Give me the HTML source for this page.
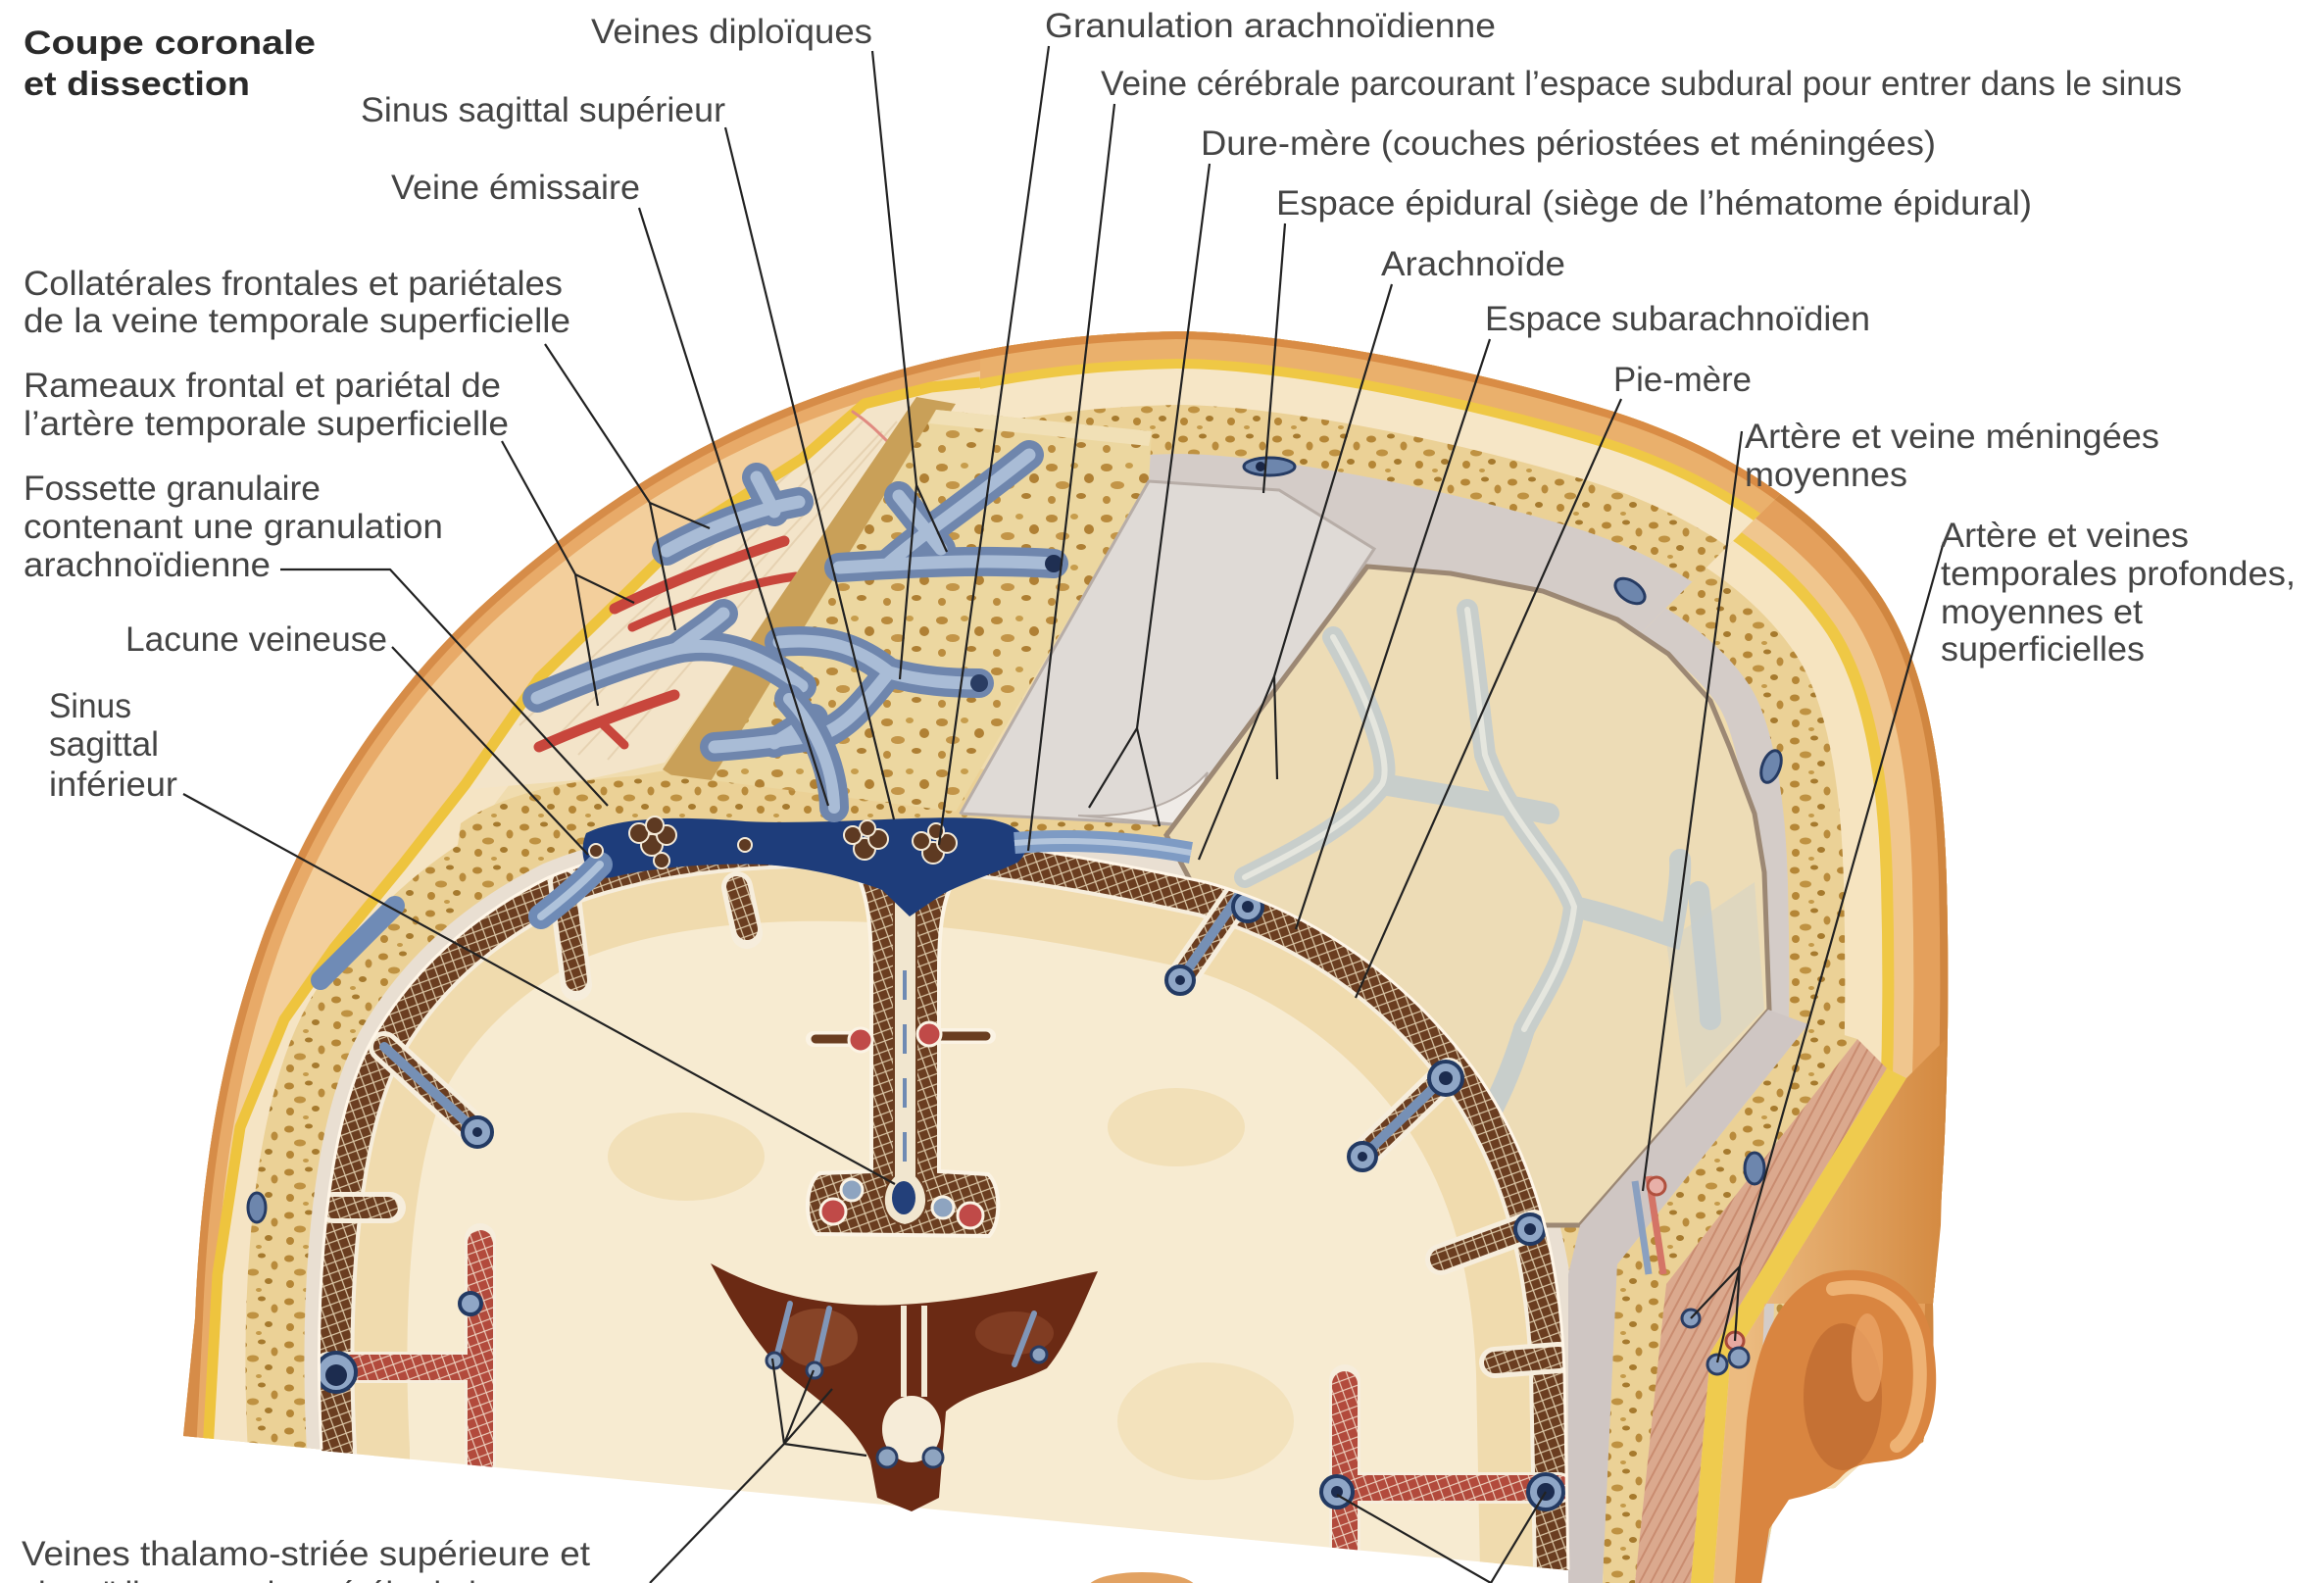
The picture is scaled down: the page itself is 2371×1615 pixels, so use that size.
<!DOCTYPE html>
<html><head><meta charset="utf-8">
<style>html,body{margin:0;padding:0;background:#fff;}svg{display:block}</style>
</head><body>
<svg width="2371" height="1615" viewBox="0 0 2371 1615" xmlns="http://www.w3.org/2000/svg">
<defs>
<pattern id="bone" width="48" height="44" patternUnits="userSpaceOnUse">
<rect width="48" height="44" fill="#ebd196"/>
<ellipse cx="7" cy="8" rx="5" ry="3.5" fill="#b58636"/>
<ellipse cx="27" cy="5" rx="4" ry="2.5" fill="#a67a2e"/>
<ellipse cx="40" cy="15" rx="3.5" ry="4.5" fill="#b98b3c"/>
<ellipse cx="18" cy="22" rx="6" ry="3.5" fill="#bf9242"/>
<ellipse cx="34" cy="31" rx="4" ry="3" fill="#a67a2e"/>
<ellipse cx="8" cy="34" rx="4" ry="4" fill="#b58636"/>
<ellipse cx="24" cy="40" rx="3" ry="2" fill="#c49a4a"/>
</pattern>
<pattern id="bone2" width="56" height="52" patternUnits="userSpaceOnUse">
<rect width="56" height="52" fill="#ecd7a0"/>
<ellipse cx="9" cy="9" rx="6" ry="4" fill="#b98a3c"/>
<ellipse cx="32" cy="7" rx="4" ry="3" fill="#c79d4c"/>
<ellipse cx="47" cy="20" rx="5" ry="5" fill="#b08034"/>
<ellipse cx="20" cy="27" rx="7" ry="4" fill="#c39548"/>
<ellipse cx="39" cy="38" rx="5" ry="3" fill="#ae7f33"/>
<ellipse cx="9" cy="42" rx="4" ry="4" fill="#bb8c3e"/>
</pattern>
<pattern id="mesh" width="14" height="14" patternUnits="userSpaceOnUse" patternTransform="rotate(25)">
<rect width="14" height="14" fill="#6a3d20"/>
<path d="M0,0L14,14M14,0L0,14" stroke="#dcc8a8" stroke-width="1.2"/>
</pattern>
<pattern id="meshR" width="14" height="14" patternUnits="userSpaceOnUse" patternTransform="rotate(25)">
<rect width="14" height="14" fill="#b24a3c"/>
<path d="M0,0L14,14M14,0L0,14" stroke="#efd6c4" stroke-width="1.1"/>
</pattern>
<pattern id="musc" width="10" height="10" patternUnits="userSpaceOnUse" patternTransform="rotate(-62)">
<rect width="10" height="10" fill="#dba98e"/>
<path d="M0,5H10" stroke="#c98c70" stroke-width="2"/>
</pattern>
<linearGradient id="skinG" x1="1780" y1="0" x2="1990" y2="0" gradientUnits="userSpaceOnUse">
<stop offset="0" stop-color="#ecbb80"/><stop offset="1" stop-color="#d3883f"/>
</linearGradient>
<clipPath id="cDome"><path d="M187,1465 L199,1345 C205,1180 230,1060 270,950 C320,820 400,700 500,610 C600,520 720,440 870,392 C980,355 1090,340 1200,338 C1300,338 1480,370 1640,418 C1760,455 1860,520 1920,610 C1965,680 1983,780 1986,900 C1990,1050 1985,1200 1972,1330 L1973,1412 L1962,1471 L1939,1486 L1902,1490 L1872,1518 L1835,1522 L1812,1533 L1797,1615 L1740,1615 Z"/></clipPath>
<clipPath id="cL"><rect x="0" y="0" width="1000" height="1615"/></clipPath>
<clipPath id="cM"><path d="M1000,0H2371V420H1900L1560,760V1615H1000Z"/></clipPath>
<clipPath id="cR"><path d="M1560,1615V760L1900,420H2371V1615Z"/></clipPath>
<clipPath id="cBrain"><path d="M328,1480 C320,1330 330,1150 380,1060 C420,990 480,935 560,895 C650,858 760,848 860,850 C980,852 1100,872 1230,900 C1340,930 1440,1000 1510,1100 C1570,1190 1592,1290 1596,1400 L1600,1602 Z"/></clipPath>
<path id="OC" d="M190,1520 L199,1345 C205,1180 230,1060 270,950 C320,820 400,700 500,610 C600,520 720,440 870,392 C980,355 1090,340 1200,338 C1300,338 1480,370 1640,418 C1760,455 1860,520 1920,610 C1965,680 1983,780 1986,900 C1990,1050 1985,1200 1972,1330 L1965,1640" fill="none" stroke-linejoin="round"/>
<path id="BC" d="M328,1520 L328,1480 C320,1330 330,1150 380,1060 C420,990 480,935 560,895 C650,858 760,848 860,850 C980,852 1100,872 1230,900 C1340,930 1440,1000 1510,1100 C1570,1190 1592,1290 1596,1400 L1600,1602 L1601,1640" fill="none" stroke-linejoin="round"/>
<path id="YL" d="M212,1480 L222,1300 L245,1150 L290,1040 L341,967 L410,883 L475,800 L550,692 L626,618 L705,540 L818,468 L882,412 L950,395 L1000,390" fill="none" stroke-linejoin="round"/>
</defs>

<rect width="2371" height="1615" fill="#ffffff"/>

<!-- base dome -->
<path d="M187,1465 L199,1345 C205,1180 230,1060 270,950 C320,820 400,700 500,610 C600,520 720,440 870,392 C980,355 1090,340 1200,338 C1300,338 1480,370 1640,418 C1760,455 1860,520 1920,610 C1965,680 1983,780 1986,900 C1990,1050 1985,1200 1972,1330 L1973,1412 L1962,1471 L1939,1486 L1902,1490 L1872,1518 L1835,1522 L1812,1533 L1797,1615 L1740,1615 Z" fill="#f0dcae"/>

<g clip-path="url(#cDome)">
 <g clip-path="url(#cL)">
  <use href="#OC" stroke="#f5e4c4" stroke-width="290"/>
 </g>
 <!-- outer peach scalp (left/upper-left) -->
 <path d="M212,1480 L222,1300 L245,1150 L290,1040 L341,967 L410,883 L475,800 L550,692 L626,618 L705,540 L818,468 L882,412 L950,395 L1000,390 L1000,300 L150,300 L150,1480 Z" fill="#f3cf9c"/>
 <g clip-path="url(#cL)">
  <use href="#OC" stroke="#e8aa68" stroke-width="40"/>
  <use href="#OC" stroke="#d68c48" stroke-width="16"/>
 </g>
 <g clip-path="url(#cM)">
  <use href="#OC" stroke="#d4ccc8" stroke-width="540"/>
  <use href="#OC" stroke="url(#bone)" stroke-width="250"/>
  <use href="#OC" stroke="#f6e6c6" stroke-width="150"/>
  <use href="#OC" stroke="#efc845" stroke-width="76"/>
  <use href="#OC" stroke="#eab06c" stroke-width="56"/>
  <use href="#OC" stroke="#d98c45" stroke-width="16"/>
 </g>
 <g clip-path="url(#cR)">
  <use href="#OC" stroke="#d4ccc8" stroke-width="400"/>
  <use href="#OC" stroke="url(#bone)" stroke-width="324"/>
  <use href="#OC" stroke="#f6e4c0" stroke-width="210"/>
  <use href="#OC" stroke="#efc845" stroke-width="134"/>
  <use href="#OC" stroke="#f0c68e" stroke-width="110"/>
  <use href="#OC" stroke="#e4a05c" stroke-width="70"/>
  <use href="#OC" stroke="#d08640" stroke-width="16"/>
 </g>
 <!-- coronal bone ring around brain -->
 <use href="#BC" stroke="url(#bone)" stroke-width="150"/>
 <use href="#BC" stroke="#e9dfd2" stroke-width="30"/>
</g>

<!-- scalp window (galea) -->
<path d="M480,805 L550,700 L626,620 L705,545 L818,472 L882,412 L940,405 L678,778 L600,795 Z" fill="#f3e4c9"/>
<g stroke="#e6d2b2" stroke-width="2" fill="none">
<path d="M560,760 L880,430"/><path d="M590,770 L900,440"/><path d="M620,775 L915,430"/><path d="M530,740 L840,450"/>
</g>
<g clip-path="url(#cDome)">
<use href="#YL" stroke="#eec43e" stroke-width="11"/>
</g>
<!-- arteries -->
<g fill="none" stroke-linecap="round">
<path d="M627,621 C680,595 740,572 800,552" stroke="#c8463c" stroke-width="11"/>
<path d="M645,640 C700,615 760,595 812,588" stroke="#c8463c" stroke-width="9"/>
<path d="M550,762 C600,740 650,722 688,709" stroke="#c8463c" stroke-width="11"/>
<path d="M612,736 L637,760" stroke="#c8463c" stroke-width="9"/>
<path d="M870,420 C885,430 895,440 905,450" stroke="#e08a80" stroke-width="3"/>
</g>
<!-- strip & bone window -->
<path d="M935,405 L975,412 L718,812 L676,785 Z" fill="#c9a058"/>
<path d="M955,418 L1175,440 L1172,492 L975,828 L716,812 Z" fill="url(#bone2)"/>
<path d="M955,418 L1175,440 L1172,455 L948,432 Z" fill="#f1e0b6"/>
<!-- veins (scalp & bone windows) -->
<g fill="none" stroke-linecap="round">
 <g stroke="#6f86ad" stroke-width="30">
  <path d="M680,562 C720,540 770,520 815,512"/><path d="M772,487 L790,522"/>
  <path d="M548,712 C600,690 650,672 690,662 C740,652 780,672 818,700"/><path d="M690,662 C705,650 722,640 738,626"/>
  <path d="M795,655 C850,650 880,665 907,686 C940,695 970,697 999,697"/>
  <path d="M729,762 C760,760 800,755 830,751"/><path d="M790,758 L830,733"/><path d="M907,686 C880,720 860,745 830,752"/>
  <path d="M856,579 C920,575 1000,570 1075,575"/><path d="M905,576 C940,545 980,520 1050,464"/><path d="M917,506 L960,560"/>
 </g>
 <g stroke="#a9bcd6" stroke-width="13">
  <path d="M680,562 C720,540 770,520 815,512"/><path d="M772,487 L790,522"/>
  <path d="M548,712 C600,690 650,672 690,662 C740,652 780,672 818,700"/><path d="M690,662 C705,650 722,640 738,626"/>
  <path d="M795,655 C850,650 880,665 907,686 C940,695 970,697 999,697"/>
  <path d="M729,762 C760,760 800,755 830,751"/><path d="M790,758 L830,733"/><path d="M907,686 C880,720 860,745 830,752"/>
  <path d="M856,579 C920,575 1000,570 1075,575"/><path d="M905,576 C940,545 980,520 1050,464"/><path d="M917,506 L960,560"/>
 </g>
</g>
<circle cx="1075" cy="575" r="9" fill="#1f2f52"/>
<circle cx="999" cy="697" r="9" fill="#2a3d63"/>

<!-- dura flap -->
<path d="M1172,491 L1305,500 L1402,560 L1215,842 L980,830 Z" fill="#dfdad6" stroke="#b7ada7" stroke-width="3"/>
<path d="M1100,832 Q1190,836 1232,788 L1215,842 Z" fill="#efebe7" stroke="#b7ada7" stroke-width="2"/>

<!-- arachnoid window -->
<path d="M1395,578 L1480,585 L1574,603 L1650,632 L1702,667 L1745,715 L1765,763 L1790,830 L1800,890 L1805,1030 L1612,1250 L1400,1250 L1190,852 Z" fill="#eddcb6" stroke="#9c8874" stroke-width="5"/>
<g fill="none" stroke-linecap="round" opacity="0.85">
 <g stroke="#c2cccf" stroke-width="22">
  <path d="M1360,650 C1400,720 1420,780 1410,800 C1380,840 1320,870 1270,895"/>
  <path d="M1410,800 C1470,810 1530,820 1580,830"/>
  <path d="M1497,622 C1505,680 1510,730 1515,770 C1540,840 1590,880 1606,925 C1600,980 1570,1020 1555,1050"/>
  <path d="M1606,925 C1650,935 1690,950 1705,955 C1712,920 1715,890 1714,877"/>
  <path d="M1733,910 C1740,980 1745,1030 1745,1040"/>
  <path d="M1555,1050 C1540,1100 1520,1140 1500,1170"/>
 </g>
 <g stroke="#e4e8e6" stroke-width="6">
  <path d="M1360,650 C1400,720 1420,780 1410,800 C1380,840 1320,870 1270,895"/>
  <path d="M1497,622 C1505,680 1510,730 1515,770 C1540,840 1590,880 1606,925 C1600,980 1570,1020 1555,1050"/>
 </g>
</g>
<path d="M1700,960 L1790,900 L1800,1030 L1720,1110 Z" fill="#c5cdd0" opacity="0.35"/>

<!-- lower right layer stack -->
<path d="M1804,1030 L1845,1045 L1650,1290 L1635,1615 L1600,1615 L1600,1300 L1612,1250 Z" fill="#cfc6c3"/>
<path d="M1845,1045 L1895,1060 L1700,1310 L1668,1615 L1635,1615 L1650,1290 Z" fill="url(#bone)"/>
<path d="M1895,1060 L1925,1090 L1745,1380 L1725,1615 L1668,1615 L1700,1310 Z" fill="url(#musc)"/>
<path d="M1925,1090 L1945,1100 L1765,1390 L1748,1615 L1725,1615 L1745,1380 Z" fill="#efcb4e"/>
<path d="M1945,1100 L1985,1060 L1980,1250 L1972,1330 L1800,1330 L1790,1615 L1748,1615 L1765,1390 Z" fill="url(#skinG)"/>
<path d="M1668,1205 L1682,1300" stroke="#8aa0c0" stroke-width="7"/>
<path d="M1682,1200 L1697,1300" stroke="#d47466" stroke-width="7"/>
<circle cx="1690" cy="1210" r="9" fill="#e8b0a8" stroke="#b0503e" stroke-width="3"/>
<circle cx="1725" cy="1345" r="9" fill="#8aa0c0" stroke="#2a3d63" stroke-width="3"/>
<circle cx="1770" cy="1368" r="9" fill="#e8a8a0" stroke="#a84a3a" stroke-width="3"/>
<circle cx="1752" cy="1392" r="10" fill="#8aa0c0" stroke="#2a3d63" stroke-width="3"/>
<circle cx="1774" cy="1385" r="10" fill="#8aa0c0" stroke="#2a3d63" stroke-width="3"/>

<!-- ear -->
<path d="M1860,1300 C1915,1285 1962,1310 1972,1370 C1982,1430 1968,1478 1940,1488 C1915,1494 1895,1490 1880,1505 C1865,1522 1845,1525 1825,1530 L1805,1560 L1797,1615 L1770,1615 L1782,1450 C1790,1380 1810,1320 1860,1300 Z" fill="#d98540"/>
<ellipse cx="1880" cy="1425" rx="40" ry="75" fill="#b5602a" opacity="0.55"/>
<path d="M1870,1315 C1920,1305 1955,1335 1958,1385 C1962,1430 1950,1465 1935,1475" fill="none" stroke="#eeb273" stroke-width="14" stroke-linecap="round"/>
<ellipse cx="1905" cy="1385" rx="16" ry="45" fill="#eaa264" opacity="0.8"/>
<ellipse cx="1165" cy="1620" rx="55" ry="16" fill="#e2a262"/>

<!-- brain -->
<path d="M328,1480 C320,1330 330,1150 380,1060 C420,990 480,935 560,895 C650,858 760,848 860,850 C980,852 1100,872 1230,900 C1340,930 1440,1000 1510,1100 C1570,1190 1592,1290 1596,1400 L1600,1602 Z" fill="#f7ebd1"/>
<g clip-path="url(#cBrain)">
 <use href="#BC" stroke="#f0dbae" stroke-width="180"/>
 <ellipse cx="700" cy="1180" rx="80" ry="45" fill="#f0dcae" opacity="0.7"/>
 <ellipse cx="1200" cy="1150" rx="70" ry="40" fill="#f0dcae" opacity="0.7"/>
 <ellipse cx="1230" cy="1450" rx="90" ry="60" fill="#f0dcae" opacity="0.6"/>
 <use href="#BC" stroke="#f6eddc" stroke-width="72"/>
 <use href="#BC" stroke="url(#mesh)" stroke-width="64"/>
 <!-- sulci -->
 <g fill="none" stroke-linecap="round">
  <g stroke="#f6eddc" stroke-width="32">
   <path d="M392,1068 L487,1155"/><path d="M575,900 L588,1005"/><path d="M752,905 L762,952"/>
   <path d="M1265,912 L1204,1000"/><path d="M1478,1095 L1390,1180"/><path d="M1565,1250 L1470,1285"/>
   <path d="M1590,1385 L1525,1390"/><path d="M340,1232 L398,1232"/>
   <path d="M490,1264 L490,1500"/><path d="M335,1395 L490,1395"/>
   <path d="M1372,1408 L1372,1630"/><path d="M1372,1518 L1590,1518"/>
  </g>
  <g stroke="url(#mesh)" stroke-width="22">
   <path d="M392,1068 L487,1155"/><path d="M575,900 L588,1000"/><path d="M752,905 L762,948"/>
   <path d="M1265,912 L1204,1000"/><path d="M1478,1095 L1390,1180"/><path d="M1565,1250 L1470,1285"/>
   <path d="M1590,1385 L1525,1390"/><path d="M340,1232 L395,1232"/>
  </g>
  <g stroke="url(#meshR)" stroke-width="26">
   <path d="M490,1268 L490,1500"/><path d="M335,1395 L490,1395"/>
   <path d="M1372,1412 L1372,1630"/><path d="M1372,1518 L1590,1518"/>
  </g>
  <g stroke="#7690b5" stroke-width="10">
   <path d="M392,1068 L487,1155"/><path d="M1265,912 L1204,1000"/><path d="M1478,1095 L1390,1180"/>
  </g>
 </g>
 <g fill="#8fa6c6" stroke="#233a63" stroke-width="4">
  <circle cx="487" cy="1155" r="15"/><circle cx="1204" cy="1000" r="14"/><circle cx="1390" cy="1180" r="14"/>
  <circle cx="1475" cy="1100" r="17"/><circle cx="1561" cy="1254" r="15"/><circle cx="1273" cy="925" r="15"/>
  <circle cx="343" cy="1400" r="20"/><circle cx="480" cy="1330" r="11"/>
  <circle cx="1364" cy="1522" r="16"/><circle cx="1577" cy="1522" r="18"/>
 </g>
 <g fill="#1c2c4f">
  <circle cx="487" cy="1155" r="5"/><circle cx="1204" cy="1000" r="5"/><circle cx="1390" cy="1180" r="5"/>
  <circle cx="1475" cy="1100" r="7"/><circle cx="1561" cy="1254" r="6"/><circle cx="1273" cy="925" r="6"/>
  <circle cx="343" cy="1403" r="11"/><circle cx="1364" cy="1522" r="6"/><circle cx="1577" cy="1522" r="9"/>
 </g>
</g>
<g clip-path="url(#cDome)">
<use href="#BC" stroke="#fff6e8" stroke-width="3"/>
</g>

<!-- falx / longitudinal fissure -->
<path d="M866,878 C884,902 889,940 889,990 L889,1195 L836,1197 C821,1208 820,1246 833,1259 L1009,1261 C1022,1247 1021,1209 1008,1198 L958,1195 L958,990 C958,940 963,903 986,880 Z" fill="url(#mesh)" stroke="#fbf3e4" stroke-width="4"/>
<path d="M912,905 L935,905 L935,1200 C950,1215 950,1245 923,1250 C897,1245 897,1215 912,1200 Z" fill="#f1e6cf" stroke="#6a3d20" stroke-width="2"/>
<path d="M923,990 L923,1185" stroke="#6f8ab3" stroke-width="4" stroke-dasharray="30 25"/>
<path d="M830,1060 L880,1060 M950,1057 L1008,1057" stroke="#fbf3e4" stroke-width="16" stroke-linecap="round"/>
<path d="M832,1060 L880,1060 M950,1057 L1006,1057" stroke="#6a3d20" stroke-width="9" stroke-linecap="round"/>
<g stroke="#fbf3e4" stroke-width="3">
<circle cx="878" cy="1061" r="12" fill="#c04a48"/><circle cx="948" cy="1055" r="12" fill="#c04a48"/>
<circle cx="850" cy="1236" r="13" fill="#c04a48"/><circle cx="990" cy="1240" r="13" fill="#c04a48"/>
<circle cx="869" cy="1214" r="11" fill="#8ea4c0"/><circle cx="962" cy="1232" r="11" fill="#8ea4c0"/>
</g>
<ellipse cx="922" cy="1222" rx="12" ry="17" fill="#23407a"/>

<!-- ventricles -->
<path d="M725,1289 C800,1330 870,1335 935,1330 C1005,1325 1065,1308 1120,1297 C1105,1330 1090,1370 1068,1396 C1030,1415 990,1418 965,1440 L958,1528 L930,1542 L895,1528 L888,1490 C870,1450 830,1425 800,1400 C770,1370 747,1330 725,1289 Z" fill="#6b2a14"/>
<ellipse cx="835" cy="1365" rx="40" ry="30" fill="#93502f" opacity="0.7"/>
<ellipse cx="1035" cy="1360" rx="40" ry="22" fill="#8d4a2c" opacity="0.6"/>
<path d="M922,1332 L922,1425 M943,1332 L943,1425" stroke="#f3ead6" stroke-width="6"/>
<ellipse cx="930" cy="1458" rx="30" ry="34" fill="#f6ecd8"/>
<g stroke="#8096b8" stroke-width="6" stroke-linecap="round">
<path d="M806,1330 L792,1385"/><path d="M846,1335 L832,1396"/><path d="M1055,1340 L1035,1392"/>
</g>
<g fill="#8ea4c0" stroke="#2a3d63" stroke-width="3">
<circle cx="790" cy="1388" r="8"/><circle cx="831" cy="1398" r="8"/><circle cx="1060" cy="1382" r="8"/>
<circle cx="905" cy="1487" r="10"/><circle cx="952" cy="1487" r="10"/>
</g>

<!-- coronal bone strip at top & sinus -->
<path d="M470,840 C520,805 600,792 680,790 L975,828 L1000,842 L760,842 C680,840 600,848 560,855 C520,862 490,880 462,900 Z" fill="url(#bone)"/>
<path d="M598,850 C630,834 690,832 760,838 C850,842 950,830 1010,836 C1045,842 1058,862 1038,880 C1010,893 985,900 962,912 L928,935 L900,908 C860,893 820,885 780,882 C720,880 660,886 625,895 C600,900 588,875 598,850 Z" fill="#1e3d7b"/>
<path d="M1035,860 C1100,855 1160,860 1215,870" fill="none" stroke="#7e9bc4" stroke-width="22"/>
<path d="M1035,860 C1100,855 1160,860 1215,870" fill="none" stroke="#b3c5dc" stroke-width="6"/>
<g fill="none" stroke-linecap="round">
<path d="M612,882 C595,900 578,915 552,935" stroke="#6f8bb6" stroke-width="26"/>
<path d="M327,1000 L403,924" stroke="#6f8bb6" stroke-width="20"/>
<path d="M612,882 C595,900 578,915 552,935" stroke="#aec2da" stroke-width="8"/>
<path d="M805,713 C830,740 850,780 851,824" stroke="#6f86ad" stroke-width="30"/>
<path d="M805,713 C830,740 850,780 851,824" stroke="#a9bcd6" stroke-width="12"/>
</g>
<!-- granulations -->
<g fill="#5e3a22" stroke="#f4ead8" stroke-width="2">
<circle cx="665" cy="862" r="11"/><circle cx="680" cy="852" r="10"/><circle cx="652" cy="850" r="10"/><circle cx="668" cy="842" r="9"/><circle cx="675" cy="878" r="8"/>
<circle cx="882" cy="866" r="11"/><circle cx="896" cy="856" r="10"/><circle cx="870" cy="852" r="9"/><circle cx="885" cy="845" r="8"/>
<circle cx="952" cy="870" r="11"/><circle cx="966" cy="860" r="10"/><circle cx="940" cy="858" r="9"/><circle cx="955" cy="848" r="8"/>
<circle cx="608" cy="868" r="7"/><circle cx="760" cy="862" r="7"/>
</g>

<!-- vessel spots in bone bands -->
<g fill="#6d86ad" stroke="#263b63" stroke-width="3">
<ellipse cx="1295" cy="476" rx="26" ry="9"/>
<ellipse cx="1663" cy="603" rx="17" ry="10" transform="rotate(35 1663 603)"/>
<ellipse cx="1807" cy="782" rx="9" ry="17" transform="rotate(20 1807 782)"/>
<ellipse cx="1790" cy="1192" rx="10" ry="16"/>
<ellipse cx="262" cy="1232" rx="9" ry="15"/>
</g>
<circle cx="1286" cy="476" r="5" fill="#1a2747"/>

<!-- leader lines -->
<g fill="none" stroke="#222" stroke-width="2.2" stroke-linejoin="round">
<path d="M556,351 L663,513 L724,539 M663,513 L689,643"/>
<path d="M512,450 L587,586 L647,615 M587,586 L610,720"/>
<path d="M652,212 L845,822"/>
<path d="M740,130 L912,836"/>
<path d="M890,52 L935,495 L966,563 M935,495 L918,693"/>
<path d="M1070,47 L958,862"/>
<path d="M1137,106 L1049,868"/>
<path d="M1234,167 L1160,743 L1111,824 M1160,743 L1183,843"/>
<path d="M1311,228 L1289,503"/>
<path d="M1420,290 L1300,690 L1303,795 M1300,690 L1223,877"/>
<path d="M1520,346 L1322,948"/>
<path d="M1654,407 L1383,1018"/>
<path d="M1777,440 L1676,1215"/>
<path d="M1983,553 L1775,1292 L1725,1345 M1775,1292 L1770,1368 M1775,1292 L1752,1390"/>
<path d="M286,581 L398,581 L620,822"/>
<path d="M400,660 L600,872"/>
<path d="M187,810 L913,1208"/>
<path d="M663,1615 L800,1473 L788,1386 M800,1473 L830,1398 M800,1473 L849,1417 M800,1473 L884,1485"/>
<path d="M1521,1615 L1364,1525 M1521,1615 L1577,1522"/>
</g>

<!-- labels -->
<g font-family="'Liberation Sans', Arial, sans-serif" font-size="35" fill="#444">
<text x="24" y="55" font-weight="bold" font-size="34" fill="#2a2a2a" textLength="298" lengthAdjust="spacingAndGlyphs">Coupe coronale</text>
<text x="24" y="97" font-weight="bold" font-size="34" fill="#2a2a2a" textLength="231" lengthAdjust="spacingAndGlyphs">et dissection</text>
<text x="603" y="44" textLength="287" lengthAdjust="spacingAndGlyphs">Veines diploïques</text>
<text x="1066" y="38" textLength="460" lengthAdjust="spacingAndGlyphs">Granulation arachnoïdienne</text>
<text x="1123" y="97" textLength="1103" lengthAdjust="spacingAndGlyphs">Veine cérébrale parcourant l’espace subdural pour entrer dans le sinus</text>
<text x="368" y="124" textLength="372" lengthAdjust="spacingAndGlyphs">Sinus sagittal supérieur</text>
<text x="1225" y="158" textLength="750" lengthAdjust="spacingAndGlyphs">Dure-mère (couches périostées et méningées)</text>
<text x="399" y="203" textLength="254" lengthAdjust="spacingAndGlyphs">Veine émissaire</text>
<text x="1302" y="219" textLength="771" lengthAdjust="spacingAndGlyphs">Espace épidural (siège de l’hématome épidural)</text>
<text x="1409" y="281" textLength="188" lengthAdjust="spacingAndGlyphs">Arachnoïde</text>
<text x="24" y="301" textLength="550" lengthAdjust="spacingAndGlyphs">Collatérales frontales et pariétales</text>
<text x="24" y="339" textLength="558" lengthAdjust="spacingAndGlyphs">de la veine temporale superficielle</text>
<text x="1515" y="337" textLength="393" lengthAdjust="spacingAndGlyphs">Espace subarachnoïdien</text>
<text x="1646" y="399" textLength="141" lengthAdjust="spacingAndGlyphs">Pie-mère</text>
<text x="24" y="405" textLength="487" lengthAdjust="spacingAndGlyphs">Rameaux frontal et pariétal de</text>
<text x="24" y="444" textLength="495" lengthAdjust="spacingAndGlyphs">l’artère temporale superficielle</text>
<text x="1780" y="457" textLength="423" lengthAdjust="spacingAndGlyphs">Artère et veine méningées</text>
<text x="1780" y="496" textLength="166" lengthAdjust="spacingAndGlyphs">moyennes</text>
<text x="24" y="510" textLength="303" lengthAdjust="spacingAndGlyphs">Fossette granulaire</text>
<text x="24" y="549" textLength="428" lengthAdjust="spacingAndGlyphs">contenant une granulation</text>
<text x="24" y="588" textLength="252" lengthAdjust="spacingAndGlyphs">arachnoïdienne</text>
<text x="1980" y="558" textLength="253" lengthAdjust="spacingAndGlyphs">Artère et veines</text>
<text x="1980" y="597" textLength="362" lengthAdjust="spacingAndGlyphs">temporales profondes,</text>
<text x="1980" y="636" textLength="206" lengthAdjust="spacingAndGlyphs">moyennes et</text>
<text x="1980" y="674" textLength="208" lengthAdjust="spacingAndGlyphs">superficielles</text>
<text x="128" y="664" textLength="267" lengthAdjust="spacingAndGlyphs">Lacune veineuse</text>
<text x="50" y="732" textLength="84" lengthAdjust="spacingAndGlyphs">Sinus</text>
<text x="50" y="771" textLength="112" lengthAdjust="spacingAndGlyphs">sagittal</text>
<text x="50" y="812" textLength="131" lengthAdjust="spacingAndGlyphs">inférieur</text>
<text x="22" y="1597" textLength="580" lengthAdjust="spacingAndGlyphs">Veines thalamo-striée supérieure et</text>
<text x="22" y="1638" textLength="560" lengthAdjust="spacingAndGlyphs">choroïdienne, veine cérébrale interne</text>
</g>
</svg>
</body></html>
